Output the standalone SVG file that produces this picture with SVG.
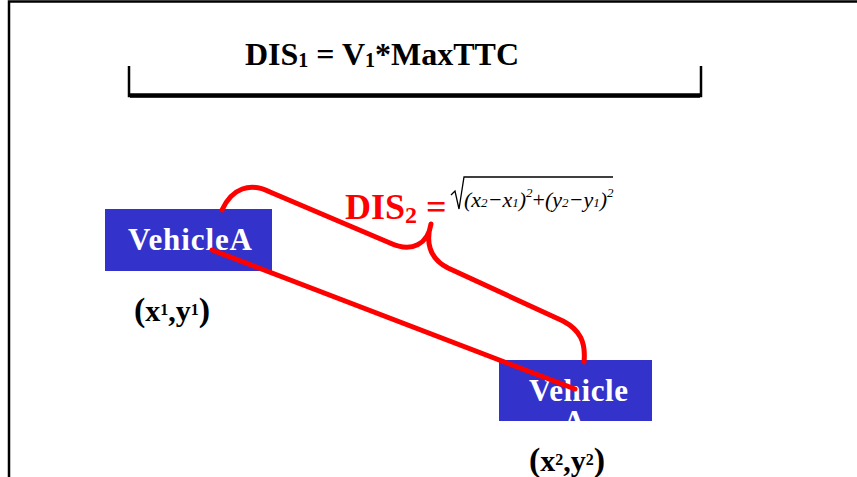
<svg xmlns="http://www.w3.org/2000/svg" width="857" height="477" viewBox="0 0 857 477">
<style>
.serif{font-family:"Liberation Serif","Times New Roman",serif;font-weight:bold}
.node rect{fill:#3333CC}
.node text{fill:#FFFFFF;font-size:31px}
.coord{fill:#000;font-size:30px}
.red{fill:none;stroke:#FF0000;stroke-width:5;stroke-linecap:round;stroke-linejoin:round}
.eq{font-family:"Liberation Serif","Times New Roman",serif;font-style:italic;fill:#000}
</style>
<rect width="857" height="477" fill="#FFFFFF"/>
<g id="frame" fill="none" stroke="#000" stroke-width="2.5">
<path d="M9,477 V1.5 H857"/>
</g>
<g id="title">
<text class="serif" x="245" y="65" font-size="32" fill="#000" textLength="274" lengthAdjust="spacingAndGlyphs">DIS<tspan font-size="20" dy="2">1</tspan><tspan dy="-2"> = V</tspan><tspan font-size="20" dy="2">1</tspan><tspan dy="-2">*MaxTTC</tspan></text>
<path d="M129,66 V96 H701 V66" fill="none" stroke="#000" stroke-width="2.5"/>
<path d="M130,95.5 H700" stroke="#000" stroke-width="4.5"/>
</g>
<g id="vehicleA" class="node serif">
<rect x="105" y="209" width="167" height="62"/>
<text x="128" y="250" textLength="124">VehicleA</text>
</g>
<g id="coord1" class="serif coord">
<text x="134" y="321"><tspan font-size="34">(</tspan>x<tspan font-size="16" dy="-6">1</tspan><tspan dy="6">,y</tspan><tspan font-size="16" dy="-6">1</tspan><tspan font-size="34" dy="6">)</tspan></text>
</g>
<g id="vehicleB" class="node serif">
<clipPath id="cb"><rect x="499" y="360" width="153" height="61"/></clipPath>
<rect x="499" y="360" width="153" height="61"/>
<g clip-path="url(#cb)">
<text x="529" y="401"><tspan textLength="99">Vehicle</tspan><tspan x="563" dy="31">A</tspan></text>
</g>
</g>
<g id="coord2" class="serif coord">
<text x="529" y="471"><tspan font-size="34">(</tspan>x<tspan font-size="16" dy="-6">2</tspan><tspan dy="6">,y</tspan><tspan font-size="16" dy="-6">2</tspan><tspan font-size="34" dy="6">)</tspan></text>
</g>
<g id="connectors">
<path class="red" d="M212,250 L575,389"/>
<path class="red" d="M222,210 C232,188 250,182 270,192 L390,243 C412,253 428,244 431,224 C426,240 428,258 448,268 L563,321 C580,330 586,342 584,362"/>
</g>
<g id="dis2">
<text class="serif" x="345" y="219" font-size="36" fill="#FF0000">DIS<tspan font-size="24" dy="4">2</tspan><tspan dy="-4" font-size="36"> =</tspan></text>
<path d="M451,195 L455,191 L459,209 L464,177 H613" fill="none" stroke="#000" stroke-width="1.3"/>
<text class="eq" x="464" y="207" font-size="22">(x<tspan font-size="13">2</tspan>−x<tspan font-size="13">1</tspan>)<tspan font-size="13" dy="-10">2</tspan><tspan dy="10" font-style="normal">+</tspan>(y<tspan font-size="13">2</tspan>−y<tspan font-size="13">1</tspan>)<tspan font-size="13" dy="-10">2</tspan></text>
</g>
</svg>
